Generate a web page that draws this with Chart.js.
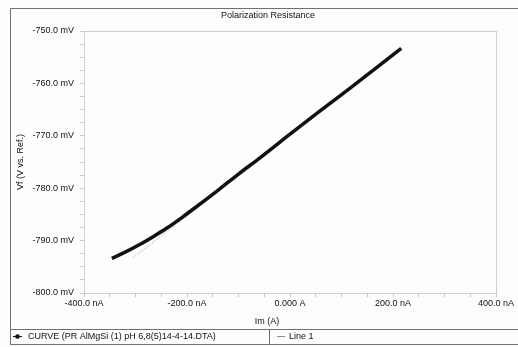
<!DOCTYPE html>
<html>
<head>
<meta charset="utf-8">
<script src="https://cdn.jsdelivr.net/npm/chart.js@4.4.0/dist/chart.umd.min.js"></script>
<style>
  html, body { margin: 0; padding: 0; background: #fdfdfb; }
</style>
</head>
<body>
<canvas id="prchart" width="518" height="347"></canvas>
<script>
const currentNA = [-346, -320, -291, -265, -239, -210, -180, -140, -100, -57, 0, 59, 118, 160, 216];
const potentialMV = [-793.4, -792.2, -790.7, -789.2, -787.6, -785.6, -783.4, -780.4, -777.3, -774.1, -769.7, -765.2, -760.8, -757.6, -753.3];

// fitted line (Line 1)
const fitCurrentNA = [-305, 217];
const fitPotentialMV = [-793.3, -753.4];

const xTickValues = [-400, -200, 0, 200, 400];
const xTickLabels = ['-400.0 nA', '-200.0 nA', '0.000 A', '200.0 nA', '400.0 nA'];
const yTickValues = [-800, -790, -780, -770, -760, -750];
const yTickLabels = ['-800.0 mV', '-790.0 mV', '-780.0 mV', '-770.0 mV', '-760.0 mV', '-750.0 mV'];

const chartTitle = 'Polarization Resistance';
const xTitle = 'Im (A)';
const yTitle = 'Vf (V vs. Ref.)';
const curveLabel = 'CURVE (PR AlMgSi (1) pH 6,8(5)14-4-14.DTA)';
const fitLabel = 'Line 1';

const FONT = "'Liberation Sans', Arial, sans-serif";

function toPoints(xs, ys) {
    return xs.map((x, i) => ({ x: x, y: ys[i] }));
}

// major ticks plus unlabeled minor ones in between
function withMinor(major, step) {
    return function(scale) {
        const ticks = [];
        for (let v = major[0]; v <= major[major.length - 1] + 1e-9; v += step) {
            ticks.push({ value: Math.round(v * 100) / 100 });
        }
        scale.ticks = ticks;
    };
}

function labelFor(values, labels) {
    return function(value) {
        const i = values.indexOf(value);
        return i >= 0 ? labels[i] : '';
    };
}

const framePlugin = {
    id: 'frame',
    beforeDraw(chart) {
        const ctx = chart.ctx;
        const w = chart.width;
        ctx.save();
        ctx.fillStyle = '#fdfdfb';
        ctx.fillRect(0, 0, w, chart.height);
        ctx.strokeStyle = '#707070';
        ctx.lineWidth = 1;
        ctx.beginPath();
        ctx.moveTo(w, 8.5); ctx.lineTo(10.5, 8.5); ctx.lineTo(10.5, 344.5); ctx.lineTo(w, 344.5);
        ctx.moveTo(10.5, 329.5); ctx.lineTo(w, 329.5);
        ctx.moveTo(269.5, 329.5); ctx.lineTo(269.5, 344.5);
        ctx.stroke();
        ctx.restore();
    },
    beforeDatasetsDraw(chart) {
        const a = chart.chartArea;
        const ctx = chart.ctx;
        ctx.save();
        ctx.strokeStyle = '#cfcfcf';
        ctx.lineWidth = 1;
        ctx.strokeRect(Math.round(a.left) + 0.5, Math.round(a.top) + 0.5,
            Math.round(a.right - a.left), Math.round(a.bottom - a.top));
        ctx.restore();
    },
    afterDraw(chart) {
        const ctx = chart.ctx;
        ctx.save();
        ctx.font = '9px ' + FONT;
        ctx.fillStyle = '#111';
        ctx.textBaseline = 'middle';
        ctx.textAlign = 'center';
        ctx.fillText(chartTitle, 268, 16);
        ctx.fillText(xTitle, 267, 322);

        // legend row
        const ds = chart.data.datasets;
        ctx.textAlign = 'left';
        ctx.strokeStyle = ds[0].borderColor;
        ctx.lineWidth = 1;
        ctx.beginPath(); ctx.moveTo(13, 336.5); ctx.lineTo(22, 336.5); ctx.stroke();
        ctx.fillStyle = ds[0].borderColor;
        ctx.beginPath(); ctx.arc(17.5, 336.5, 2.3, 0, Math.PI * 2); ctx.fill();
        ctx.fillStyle = '#111';
        ctx.fillText(ds[0].label, 28, 337);

        ctx.strokeStyle = '#8a8a8a';
        ctx.beginPath(); ctx.moveTo(277, 336.5); ctx.lineTo(285, 336.5); ctx.stroke();
        ctx.fillText(ds[1].label, 289, 337);
        ctx.restore();
    }
};

const ctx = document.getElementById('prchart').getContext('2d');
const chart = new Chart(ctx, {
    type: 'scatter',
    data: {
        datasets: [{
            label: curveLabel,
            data: toPoints(currentNA, potentialMV),
            showLine: true,
            borderColor: '#111111',
            backgroundColor: '#111111',
            borderWidth: 3.5,
            pointRadius: 0,
            cubicInterpolationMode: 'monotone',
        }, {
            label: fitLabel,
            data: toPoints(fitCurrentNA, fitPotentialMV),
            showLine: true,
            borderColor: '#8c8c8c',
            borderWidth: 1,
            borderDash: [1, 2],
            pointRadius: 0,
        }]
    },
    options: {
        responsive: false,
        animation: false,
        layout: { padding: { left: 12, top: 31, right: 22, bottom: 38 } },
        plugins: {
            legend: { display: false },
            title: { display: false },
            tooltip: { enabled: false }
        },
        scales: {
            x: {
                type: 'linear',
                min: -400,
                max: 400,
                afterBuildTicks: withMinor(xTickValues, 50),
                afterFit(scale) { scale.height = 16; },
                border: { display: false },
                grid: { drawOnChartArea: false, drawTicks: true, tickLength: 4, color: '#c8c8c8' },
                ticks: {
                    autoSkip: false,
                    maxRotation: 0,
                    padding: 1,
                    color: '#111',
                    font: { family: FONT, size: 9 },
                    callback: labelFor(xTickValues, xTickLabels)
                }
            },
            y: {
                type: 'linear',
                min: -800,
                max: -750,
                afterBuildTicks: withMinor(yTickValues, 2.5),
                afterFit(scale) { scale.width = 72; },
                border: { display: false },
                grid: { drawOnChartArea: false, drawTicks: true, tickLength: 4, color: '#c8c8c8' },
                title: {
                    display: true,
                    text: yTitle,
                    color: '#111',
                    font: { family: FONT, size: 9 },
                    padding: { top: 3, bottom: 0 }
                },
                ticks: {
                    autoSkip: false,
                    padding: 6,
                    color: '#111',
                    font: { family: FONT, size: 9 },
                    callback: labelFor(yTickValues, yTickLabels)
                }
            }
        }
    },
    plugins: [framePlugin]
});
</script>
</body>
</html>
